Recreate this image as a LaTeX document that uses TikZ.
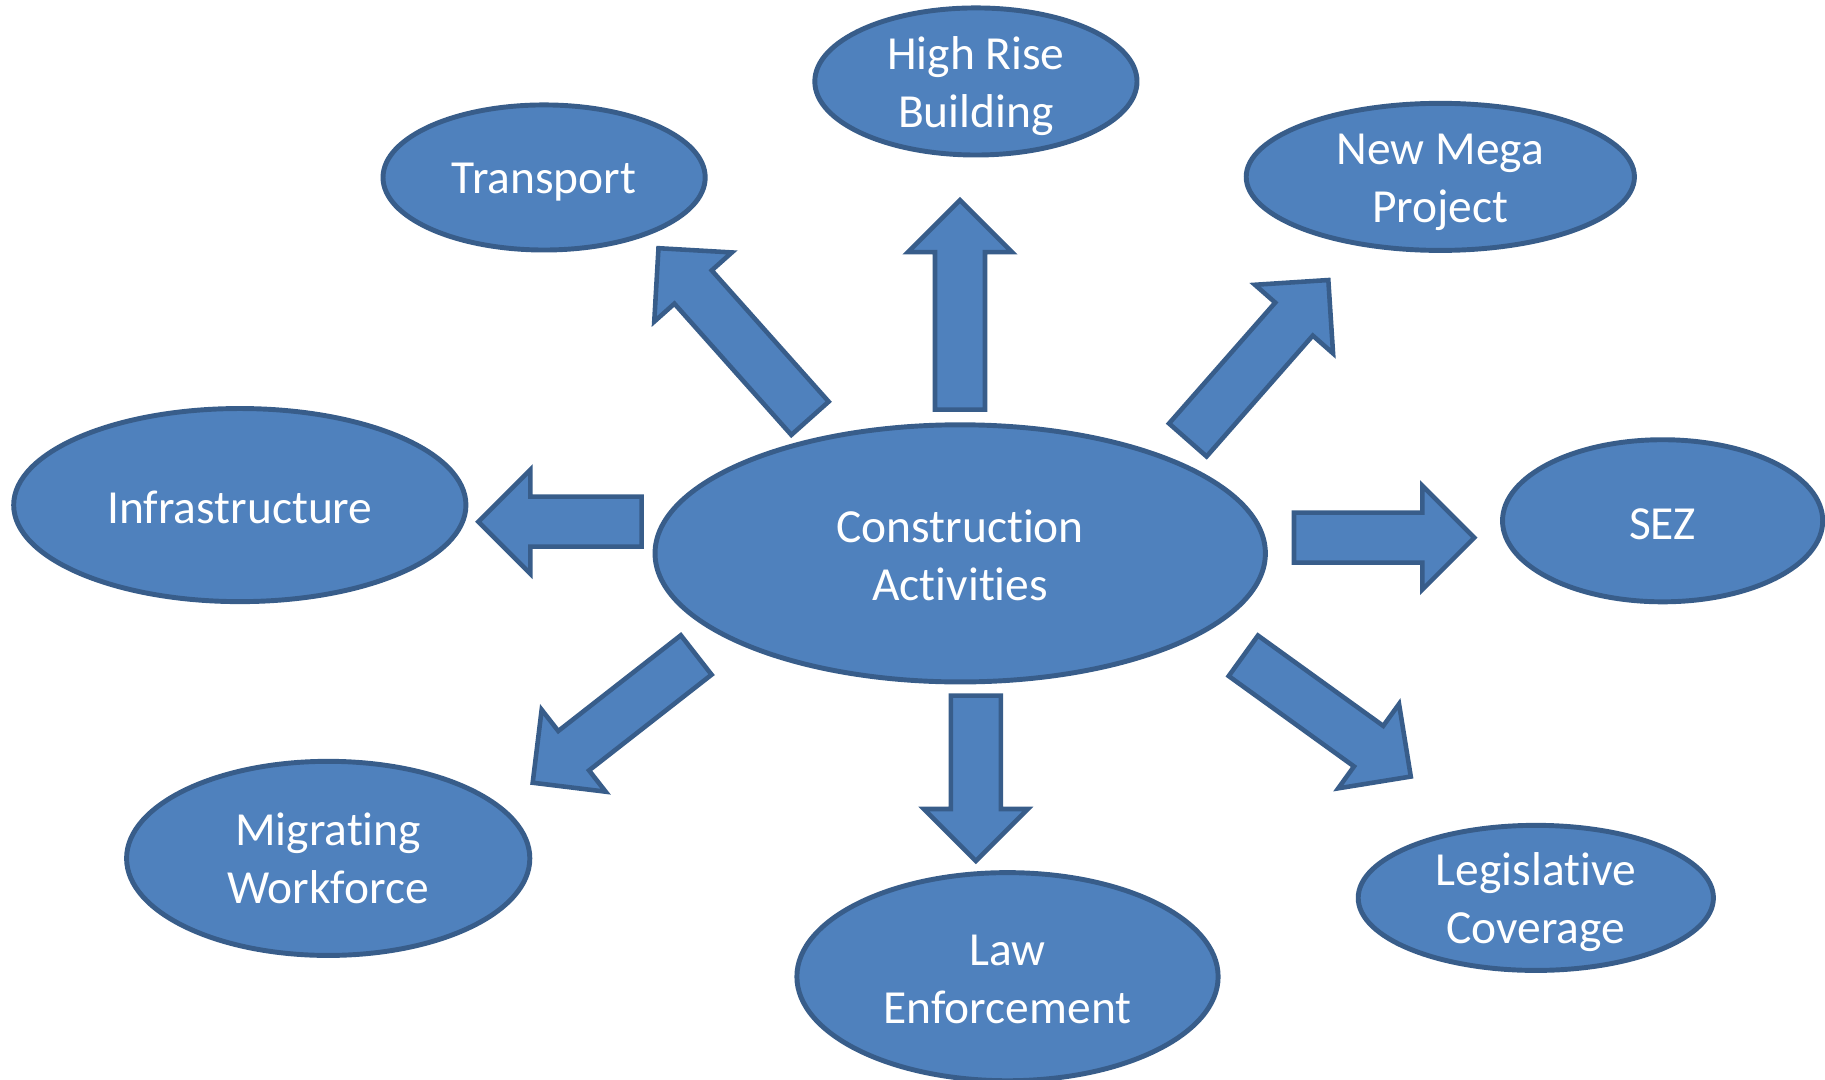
\documentclass[tikz,border=0pt]{standalone}
\usepackage{fontspec}
\setmainfont{Carlito}[Ligatures={NoCommon}]
\usetikzlibrary{shapes.geometric}

\definecolor{bubblefill}{HTML}{4F81BD}
\definecolor{bubbleline}{HTML}{385D8A}

\tikzset{
  bubble/.style={ellipse, draw=bubbleline, fill=bubblefill, line width=1.4pt, inner sep=0pt},
  bubbletext/.style={text=white, align=center, inner sep=0pt,
    font=\fontsize{13.5}{16.5}\selectfont},
  blockarrow/.style={draw=bubbleline, fill=bubblefill, line width=1.3pt, line join=miter}
}

% block arrow: tail point, angle, length
\newcommand{\fatarrow}[3]{%
  \begin{scope}[shift={(#1)}, rotate=#2]
    \draw[blockarrow] (0,-25) -- ({#3-52},-25) -- ({#3-52},-52) -- (#3,0)
      -- ({#3-52},52) -- ({#3-52},25) -- (0,25) -- cycle;
  \end{scope}}

\begin{document}
\begin{tikzpicture}[x=0.01cm, y=0.01cm]
    \useasboundingbox (0,0) rectangle (1825,1080);

    % Centre
    \node[bubble, minimum width=6.10cm, minimum height=2.57cm] (constr) at (960.2,526.6) {};
    \node[bubbletext] (constrtxt) at ([yshift=-0.015cm]constr) {Construction\\Activities};

    % Outer ellipses
    \node[bubble, minimum width=3.22cm, minimum height=1.45cm] (transport) at (544.1,902.5) {};
    \node[bubbletext] (transporttxt) at ([yshift=-0.047cm]transport) {Transport};
    \node[bubble, minimum width=3.22cm, minimum height=1.47cm] (highrise) at (975.9,998.5) {};
    \node[bubbletext] (highrisetxt) at ([yshift=-0.047cm]highrise) {High Rise\\Building};
    \node[bubble, minimum width=3.88cm, minimum height=1.47cm] (megaproj) at (1440.3,903.1) {};
    \node[bubbletext] (megaprojtxt) at ([yshift=-0.052cm]megaproj) {New Mega\\Project};
    \node[bubble, minimum width=4.52cm, minimum height=1.93cm] (infra) at (239.8,574.9) {};
    \node[bubbletext] (infratxt) at ([yshift=-0.023cm]infra) {Infrastructure};
    \node[bubble, minimum width=3.20cm, minimum height=1.62cm] (sez) at (1662.6,559.2) {};
    \node[bubbletext] (seztxt) at ([yshift=-0.035cm]sez) {SEZ};
    \node[bubble, minimum width=4.03cm, minimum height=1.94cm] (workforce) at (328.2,221.6) {};
    \node[bubbletext] (workforcetxt) at (workforce) {Migrating\\Workforce};
    \node[bubble, minimum width=4.21cm, minimum height=2.08cm] (lawenf) at (1007.5,103.3) {};
    \node[bubbletext] (lawenftxt) at ([yshift=-0.029cm]lawenf) {Law\\Enforcement};
    \node[bubble, minimum width=3.55cm, minimum height=1.45cm] (legis) at (1535.8,182.1) {};
    \node[bubbletext] (legistxt) at ([yshift=-0.041cm]legis) {Legislative\\Coverage};

    % Block arrows
    \fatarrow{810,661.7}{131.7}{227.8}
    \fatarrow{960,670.3}{90}{209.5}
    \fatarrow{1187.8,640}{48.7}{212.9}
    \fatarrow{641.7,558.3}{180}{163.3}
    \fatarrow{1294,542.3}{0}{180.3}
    \fatarrow{975.8,384.3}{-90}{165.3}
    \fatarrow{696.2,425}{218}{207.5}
    \fatarrow{1243.3,424.2}{-35.8}{206.5}
\end{tikzpicture}
\end{document}
